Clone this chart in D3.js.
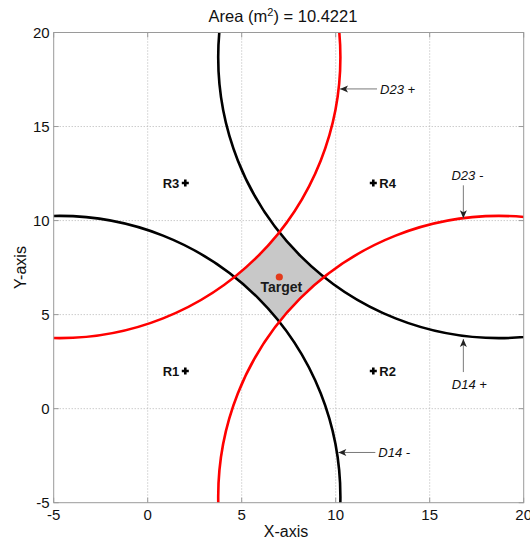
<!DOCTYPE html>
<html>
<head>
<meta charset="utf-8">
<script src="https://cdn.jsdelivr.net/npm/d3@7"></script>
<style>
  body { margin: 0; background: #fff; }
  text { font-family: "Liberation Sans", Arial, Helvetica, sans-serif; }
</style>
</head>
<body>
<script>
// receivers and target
const receiverNames = ["R1", "R2", "R3", "R4"];
const receiverX = [2, 12, 2, 12];
const receiverY = [2, 2, 12, 12];
const targetX = 7;
const targetY = 7;
const areaValue = "10.4221";

// bounding circles (data units)
const circleNames = ["D14 +", "D14 -", "D23 +", "D23 -"];
const circleCX = [18.68, -4.68, -4.68, 18.68];
const circleCY = [18.68, -4.68, 18.68, -4.68];
const circleR = [14.93, 14.93, 14.93, 14.93];

// where each label arrow touches its circle
const arrowTipX = [16.79, 10.14, 10.23, 16.79];
const arrowTipY = [3.70, -2.33, 17.0, 10.12];

const xTicks = [-5, 0, 5, 10, 15, 20];
const yTicks = [-5, 0, 5, 10, 15, 20];

const W = 530, H = 542;
const plotL = 53.7, plotR = 523.7, plotT = 32.5, plotB = 502.7;

const svg = d3.select("body").append("svg")
  .attr("width", W).attr("height", H);

const x = d3.scaleLinear().domain([-5, 20]).range([plotL, plotR]);
const y = d3.scaleLinear().domain([-5, 20]).range([plotB, plotT]);

const circleColor = (name) => name.startsWith("D14") ? "#000" : "#ff0000";
const arrowDir = { "D14 +": "up", "D14 -": "left", "D23 +": "left", "D23 -": "down" };

const defs = svg.append("defs");
defs.append("clipPath").attr("id", "plotclip")
  .append("rect")
  .attr("x", plotL).attr("y", plotT)
  .attr("width", plotR - plotL).attr("height", plotB - plotT);

// grid
const grid = svg.append("g");
xTicks.slice(1, -1).forEach((t) => {
  grid.append("line")
    .attr("x1", x(t)).attr("x2", x(t)).attr("y1", plotT).attr("y2", plotB)
    .attr("stroke", "#b4b4b4").attr("stroke-dasharray", "1,2");
});
yTicks.slice(1, -1).forEach((t) => {
  grid.append("line")
    .attr("y1", y(t)).attr("y2", y(t)).attr("x1", plotL).attr("x2", plotR)
    .attr("stroke", "#b4b4b4").attr("stroke-dasharray", "1,2");
});

// intersection of two circles, the one nearest the target
function meet(i, j) {
  let x0 = circleCX[i], y0 = circleCY[i], r0 = circleR[i];
  let x1 = circleCX[j], y1 = circleCY[j], r1 = circleR[j];
  let dx = x1 - x0, dy = y1 - y0, d = Math.hypot(dx, dy);
  let a = (r0 * r0 - r1 * r1 + d * d) / (2 * d);
  let h = Math.sqrt(Math.max(0, r0 * r0 - a * a));
  let mx = x0 + a * dx / d, my = y0 + a * dy / d;
  let p1 = [mx + h * dy / d, my - h * dx / d];
  let p2 = [mx - h * dy / d, my + h * dx / d];
  let d1 = Math.hypot(p1[0] - targetX, p1[1] - targetY);
  let d2 = Math.hypot(p2[0] - targetX, p2[1] - targetY);
  return d1 < d2 ? p1 : p2;
}

// shaded feasible region: quad of corners minus circle interiors
const corners = [meet(1, 2), meet(2, 0), meet(0, 3), meet(3, 1)];
const mask = defs.append("mask").attr("id", "regionmask")
  .attr("maskUnits", "userSpaceOnUse")
  .attr("x", 0).attr("y", 0).attr("width", W).attr("height", H);
mask.append("rect").attr("x", 0).attr("y", 0).attr("width", W).attr("height", H).attr("fill", "#fff");
circleNames.forEach((n, i) => {
  mask.append("ellipse")
    .attr("cx", x(circleCX[i])).attr("cy", y(circleCY[i]))
    .attr("rx", x(circleR[i]) - x(0)).attr("ry", y(0) - y(circleR[i]))
    .attr("fill", "#000");
});
svg.append("polygon")
  .attr("points", corners.map((p) => [x(p[0]), y(p[1])].join(",")).join(" "))
  .attr("fill", "#c8c8c8")
  .attr("mask", "url(#regionmask)");

// circles
const curves = svg.append("g").attr("clip-path", "url(#plotclip)");
[1, 0, 2, 3].forEach((i) => {
  curves.append("ellipse")
    .attr("cx", x(circleCX[i])).attr("cy", y(circleCY[i]))
    .attr("rx", x(circleR[i]) - x(0)).attr("ry", y(0) - y(circleR[i]))
    .attr("fill", "none")
    .attr("stroke", circleColor(circleNames[i]))
    .attr("stroke-width", 2.6);
});

// axes box, ticks, labels
svg.append("rect")
  .attr("x", plotL).attr("y", plotT)
  .attr("width", plotR - plotL).attr("height", plotB - plotT)
  .attr("fill", "none").attr("stroke", "#9a9a9a").attr("stroke-width", 1);

const tk = svg.append("g").attr("stroke", "#9a9a9a");
xTicks.forEach((t) => {
  tk.append("line").attr("x1", x(t)).attr("x2", x(t)).attr("y1", plotB).attr("y2", plotB - 5);
  tk.append("line").attr("x1", x(t)).attr("x2", x(t)).attr("y1", plotT).attr("y2", plotT + 5);
});
yTicks.forEach((t) => {
  tk.append("line").attr("y1", y(t)).attr("y2", y(t)).attr("x1", plotL).attr("x2", plotL + 5);
  tk.append("line").attr("y1", y(t)).attr("y2", y(t)).attr("x1", plotR).attr("x2", plotR - 5);
});

svg.append("g").selectAll("text").data(xTicks).join("text")
  .attr("x", (d) => x(d)).attr("y", plotB + 17)
  .attr("text-anchor", "middle").attr("font-size", 15).attr("fill", "#111")
  .text((d) => d);
svg.append("g").selectAll("text").data(yTicks).join("text")
  .attr("x", plotL - 4).attr("y", (d) => y(d)).attr("dy", "0.36em")
  .attr("text-anchor", "end").attr("font-size", 15).attr("fill", "#111")
  .text((d) => d);

svg.append("text")
  .attr("x", 286).attr("y", 537)
  .attr("text-anchor", "middle").attr("font-size", 16).attr("fill", "#111")
  .text("X-axis");
svg.append("text")
  .attr("transform", `translate(26,${(plotT + plotB) / 2}) rotate(-90)`)
  .attr("text-anchor", "middle").attr("font-size", 16).attr("fill", "#111")
  .text("Y-axis");

const title = svg.append("text")
  .attr("x", 283).attr("y", 22)
  .attr("text-anchor", "middle").attr("font-size", 16.5).attr("fill", "#111");
title.append("tspan").text("Area (m");
title.append("tspan").attr("dy", -6).attr("font-size", 11).text("2");
title.append("tspan").attr("dy", 6).text(") = " + areaValue);

// receivers
receiverNames.forEach((n, i) => {
  let px = x(receiverX[i]), py = y(receiverY[i]);
  svg.append("path")
    .attr("d", `M${px - 3.5},${py}H${px + 3.5}M${px},${py - 3.5}V${py + 3.5}`)
    .attr("stroke", "#000").attr("stroke-width", 2.6);
  let onLeft = receiverX[i] < targetX;
  svg.append("text")
    .attr("x", onLeft ? px - 6 : px + 6).attr("y", py).attr("dy", "0.36em")
    .attr("text-anchor", onLeft ? "end" : "start")
    .attr("font-size", 13).attr("font-weight", "bold").attr("fill", "#111")
    .text(n);
});

// target
svg.append("circle")
  .attr("cx", x(targetX)).attr("cy", y(targetY)).attr("r", 3.6)
  .attr("fill", "#e33b1c");
svg.append("text")
  .attr("x", x(targetX) + 2).attr("y", y(targetY) + 15)
  .attr("text-anchor", "middle").attr("font-size", 14).attr("font-weight", "bold")
  .attr("fill", "#1a1a1a")
  .text("Target");

// label arrows
const ann = svg.append("g");
circleNames.forEach((n, i) => {
  let tx = x(arrowTipX[i]), ty = y(arrowTipY[i]);
  let dir = arrowDir[n];
  let ang = { left: 0, up: 90, down: -90 }[dir];
  let tail = dir === "left" ? [tx + 37, ty] : dir === "down" ? [tx, ty - 33] : [tx, ty + 33];
  ann.append("line")
    .attr("x1", tail[0]).attr("y1", tail[1]).attr("x2", tx).attr("y2", ty)
    .attr("stroke", "#7a7a7a").attr("stroke-width", 1);
  ann.append("path")
    .attr("d", "M0,0L8,-3.5L6,0L8,3.5Z")
    .attr("transform", `translate(${tx},${ty}) rotate(${ang})`)
    .attr("fill", "#222");
  let lx, ly, anchor;
  if (dir === "left") { lx = tx + 40; ly = ty + 5; anchor = "start"; }
  else if (dir === "down") { lx = tx + 4; ly = ty - 38; anchor = "middle"; }
  else { lx = tx + 6; ly = ty + 50; anchor = "middle"; }
  ann.append("text")
    .attr("x", lx).attr("y", ly).attr("text-anchor", anchor)
    .attr("font-size", 13).attr("font-style", "italic").attr("fill", "#111")
    .text(n);
});
</script>
</body>
</html>
